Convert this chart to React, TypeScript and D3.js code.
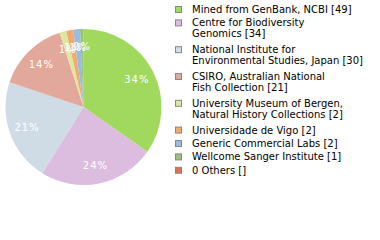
import React from "react";
import * as d3 from "d3";

const labels = [
  "Mined from GenBank, NCBI [49]",
  "Centre for Biodiversity|Genomics [34]",
  "National Institute for|Environmental Studies, Japan [30]",
  "CSIRO, Australian National|Fish Collection [21]",
  "University Museum of Bergen,|Natural History Collections [2]",
  "Universidade de Vigo [2]",
  "Generic Commercial Labs [2]",
  "Wellcome Sanger Institute [1]",
  "0 Others []",
];
const values = [49, 34, 30, 21, 2, 2, 2, 1, 0];
const colors = [
  "#a1d95e",
  "#dcbddf",
  "#cfdbe5",
  "#e2a89b",
  "#dfe6a2",
  "#f2aa6e",
  "#9bbbe2",
  "#98c377",
  "#e0704f",
];

export default function App() {
  const cx = 83.5;
  const cy = 107;
  const r = 78;
  const total = d3.sum(values);
  const pie = d3.pie<number>().sort(null).value((d) => d)(values);
  const arc = d3.arc<d3.PieArcDatum<number>>().innerRadius(0).outerRadius(r);
  const labelArc = d3.arc<d3.PieArcDatum<number>>().innerRadius(r * 0.77).outerRadius(r * 0.77);

  let y = 9.5;
  const rows = labels.map((l, i) => {
    const lines = l.split("|");
    const row = { lines, y, i };
    y += lines.length * 13.4;
    return row;
  });

  return (
    <svg width={380} height={240} style={{ position: "absolute", left: 0, top: 0 }}>
      <g transform={`translate(${cx},${cy})`}>
        {pie.map((p, i) =>
          p.value > 0 ? <path key={i} d={arc(p) || ""} fill={colors[i]} /> : null
        )}
        {pie.map((p, i) => {
          if (p.value <= 0) return null;
          const [lx, ly] = labelArc.centroid(p);
          return (
            <text
              key={i}
              x={lx}
              y={ly}
              dy="0.35em"
              textAnchor="middle"
              fill="#fff"
              fontFamily="DejaVu Sans, Verdana, sans-serif"
              fontSize={10}
              letterSpacing={1}
            >
              {Math.floor((p.value / total) * 100) + "%"}
            </text>
          );
        })}
      </g>
      <g fontFamily="DejaVu Sans, Verdana, sans-serif" fontSize={10} fill="#000">
        {rows.map((row) => (
          <g key={row.i}>
            <rect
              x={175.5}
              y={row.y - 3}
              width={6}
              height={6}
              fill={colors[row.i]}
              stroke="#888"
              strokeWidth={1}
            />
            {row.lines.map((ln, j) => (
              <text key={j} x={192} y={row.y + j * 10.8} dy="0.35em">
                {ln}
              </text>
            ))}
          </g>
        ))}
      </g>
    </svg>
  );
}
